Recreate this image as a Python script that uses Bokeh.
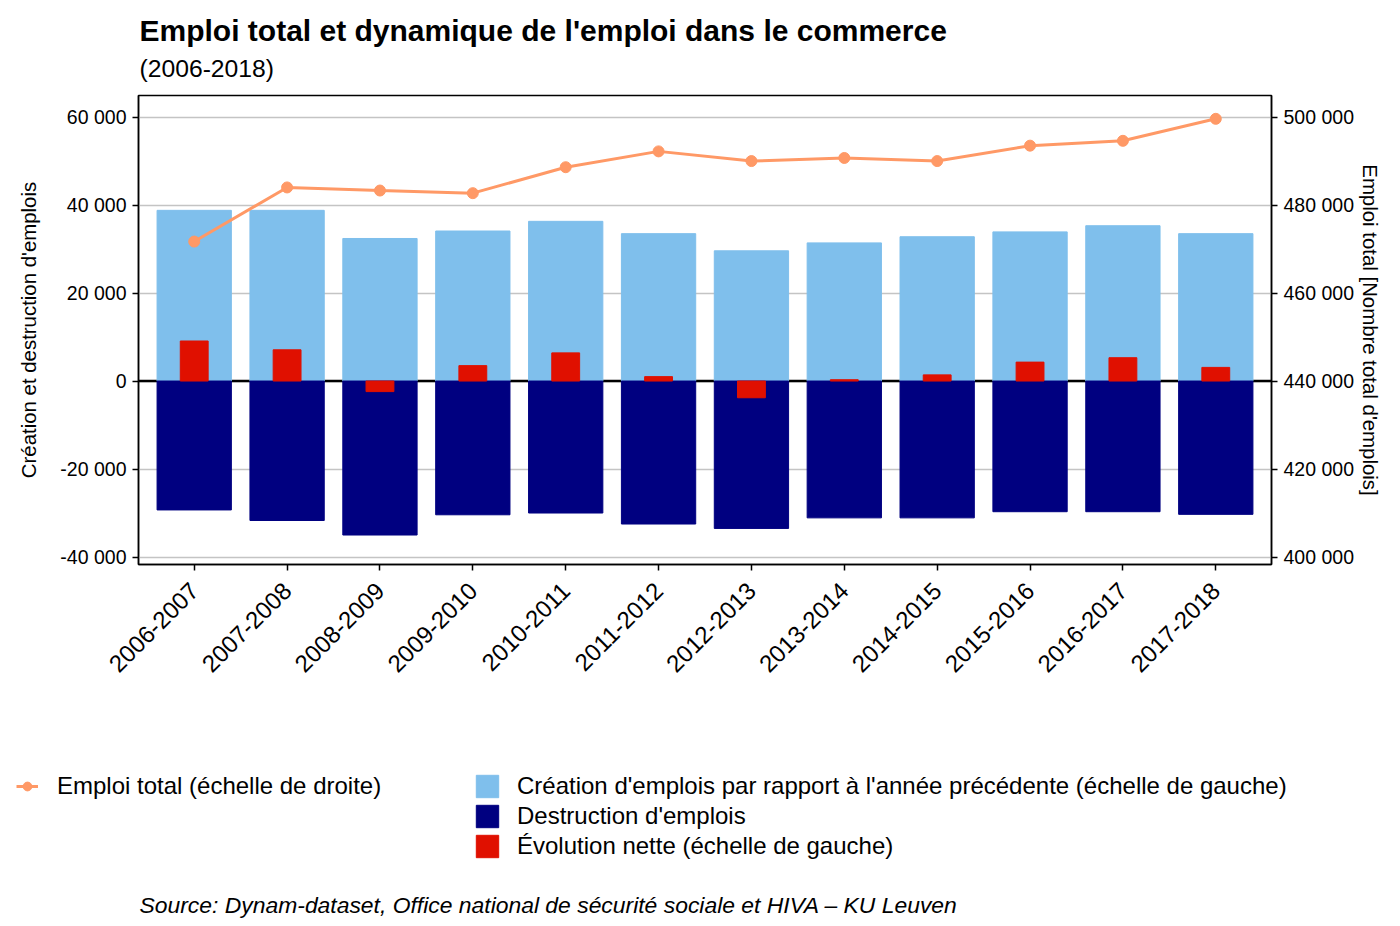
import math
from bokeh.plotting import figure
from bokeh.layouts import column, row
from bokeh.models import (Range1d, LinearAxis, FixedTicker, Label, Legend,
                          LegendItem, Span, ColumnDataSource)
from bokeh.embed import file_html
from bokeh.resources import INLINE

# ---- data -------------------------------------------------------------
periods = ["2006-2007", "2007-2008", "2008-2009", "2009-2010", "2010-2011",
           "2011-2012", "2012-2013", "2013-2014", "2014-2015", "2015-2016",
           "2016-2017", "2017-2018"]
creation = [38800, 38800, 32400, 34100, 36300, 33500,
            29600, 31400, 32800, 33900, 35300, 33500]
destruction = [-29300, -31700, -35000, -30400, -30000, -32500,
               -33500, -31100, -31100, -29700, -29700, -30300]
net_change = [9100, 7100, -2400, 3500, 6400, 1000,
              -3800, 300, 1400, 4300, 5300, 3100]
total_employment = [471700, 484000, 483300, 482700, 488600, 492200,
                    490000, 490700, 490000, 493500, 494600, 499600]
left_ticks = [-40000, -20000, 0, 20000, 40000, 60000]
right_ticks = [400000, 420000, 440000, 460000, 480000, 500000]

FONT = "Liberation Sans"
C_CREATION = "#7FBFEC"
C_DESTRUCTION = "#000080"
C_NET = "#E01000"
C_TOTAL = "#FF9966"

W = 1400
HEADER_H = 90
FOOTER_H = 226
MAIN_H = 926 - HEADER_H - FOOTER_H

xs = list(range(1, len(periods) + 1))
src = ColumnDataSource(dict(x=xs, creation=creation, destruction=destruction,
                            net=net_change, total=total_employment))


def fmt(v):
    return f"{v:,}".replace(",", " ")


def blank_canvas(height):
    f = figure(width=W, height=height, output_backend="svg",
               toolbar_location=None, x_range=Range1d(0, W),
               y_range=Range1d(0, height), min_border=0)
    f.axis.visible = False
    f.grid.visible = False
    f.outline_line_color = None
    return f


# ---- header: title and subtitle ----------------------------------------
header = blank_canvas(HEADER_H)
header.add_layout(Label(x=139, y=HEADER_H - 30,
                        text="Emploi total et dynamique de l'emploi dans le commerce",
                        text_font=FONT, text_font_style="bold",
                        text_font_size="30px", text_baseline="middle",
                        text_color="black"))
header.add_layout(Label(x=139, y=HEADER_H - 68, text="(2006-2018)",
                        text_font=FONT, text_font_size="24.7px",
                        text_baseline="middle", text_color="black"))

# ---- main chart --------------------------------------------------------
p = figure(width=W, height=MAIN_H, output_backend="svg", toolbar_location=None,
           x_range=Range1d(0.4, len(periods) + 0.6),
           y_range=Range1d(-41700, 64900),
           min_border_left=138, min_border_right=129,
           min_border_top=95 - HEADER_H,
           min_border_bottom=(HEADER_H + MAIN_H) - 564)
p.extra_y_ranges = {"right": Range1d(398300, 504900)}
p.outline_line_color = "black"
p.outline_line_width = 1.5

p.xgrid.visible = False
p.ygrid.ticker = FixedTicker(ticks=left_ticks)
p.ygrid.grid_line_color = "#C4C4C4"
p.ygrid.grid_line_width = 1.3

# zero line sits under the bars
p.add_layout(Span(location=0, dimension="width", line_color="black",
                  line_width=2.5, level="underlay"))

p.vbar(x="x", top="creation", bottom=0, width=0.8, source=src,
       fill_color=C_CREATION, line_color=C_CREATION)
p.vbar(x="x", top=0, bottom="destruction", width=0.8, source=src,
       fill_color=C_DESTRUCTION, line_color=C_DESTRUCTION)
p.vbar(x="x", top="net", bottom=0, width=0.3, source=src,
       fill_color=C_NET, line_color=C_NET)

p.line(x="x", y="total", source=src, y_range_name="right",
       line_color=C_TOTAL, line_width=3)
p.scatter(x="x", y="total", source=src, y_range_name="right",
          size=11, fill_color=C_TOTAL, line_color=C_TOTAL)

xa = p.xaxis[0]
xa.ticker = FixedTicker(ticks=xs)
xa.major_label_overrides = {x: lab for x, lab in zip(xs, periods)}
xa.major_label_orientation = math.pi / 4

ya = p.yaxis[0]
ya.ticker = FixedTicker(ticks=left_ticks)
ya.major_label_overrides = {v: fmt(v) for v in left_ticks}
ya.axis_label = "Création et destruction d'emplois"
ya.axis_label_standoff = 17

ra = LinearAxis(y_range_name="right", ticker=FixedTicker(ticks=right_ticks))
ra.major_label_overrides = {v: fmt(v) for v in right_ticks}
ra.axis_label = "Emploi total [Nombre total d'emplois]"
ra.axis_label_standoff = 2
p.add_layout(ra, "right")

for ax in (xa, ya, ra):
    ax.axis_line_color = "black"
    ax.axis_line_width = 1.5
    ax.major_tick_line_color = "black"
    ax.major_tick_line_width = 1.5
    ax.major_tick_out = 6
    ax.major_tick_in = 0
    ax.minor_tick_line_color = None
    ax.major_label_text_font = FONT
    ax.major_label_text_color = "black"
    ax.major_label_text_font_size = "19.5px"
    ax.major_label_standoff = 6
    ax.axis_label_text_font = FONT
    ax.axis_label_text_font_style = "normal"
    ax.axis_label_text_font_size = "20.4px"
    ax.axis_label_text_color = "black"
xa.major_label_text_font_size = "24px"
xa.major_label_standoff = 16

# ---- footer: legend and source -----------------------------------------
footer = blank_canvas(FOOTER_H)
# legend keys: one undrawn (NaN) point each, styled like the chart marks
nan = float("nan")
keys = ColumnDataSource(dict(x=[nan], y=[nan], top=[nan]))
k_line = footer.line(x="x", y="y", source=keys, line_color=C_TOTAL, line_width=3)
k_pts = footer.scatter(x="x", y="y", source=keys, size=11,
                       fill_color=C_TOTAL, line_color=C_TOTAL)
k_cre = footer.vbar(x="x", top="top", width=1, source=keys,
                    fill_color=C_CREATION, line_color=C_CREATION)
k_des = footer.vbar(x="x", top="top", width=1, source=keys,
                    fill_color=C_DESTRUCTION, line_color=C_DESTRUCTION)
k_net = footer.vbar(x="x", top="top", width=1, source=keys,
                    fill_color=C_NET, line_color=C_NET)

leg_total = Legend(items=[LegendItem(label="Emploi total (échelle de droite)",
                                     renderers=[k_line, k_pts])],
                   location=(16, 926 - 800), glyph_width=22, glyph_height=28,
                   label_standoff=19)
leg_bars = Legend(items=[
    LegendItem(label="Création d'emplois par rapport à l'année précédente (échelle de gauche)",
               renderers=[k_cre]),
    LegendItem(label="Destruction d'emplois", renderers=[k_des]),
    LegendItem(label="Évolution nette (échelle de gauche)", renderers=[k_net]),
], location=(473, 926 - 860), glyph_width=28, glyph_height=28,
    label_standoff=16, spacing=2)
for lg in (leg_total, leg_bars):
    lg.label_text_font = FONT
    lg.label_text_font_size = "24px"
    lg.label_text_color = "black"
    lg.border_line_color = None
    lg.background_fill_alpha = 0
    lg.padding = 0
    lg.margin = 0
    footer.add_layout(lg, "center")

footer.add_layout(Label(x=139, y=926 - 904,
                        text="Source: Dynam-dataset, Office national de sécurité sociale et HIVA – KU Leuven",
                        text_font=FONT, text_font_style="italic",
                        text_font_size="22.9px", text_baseline="middle",
                        text_color="black"))

layout = column(header, row(p), footer, spacing=0)
open("out.html", "w").write(file_html(layout, INLINE))
